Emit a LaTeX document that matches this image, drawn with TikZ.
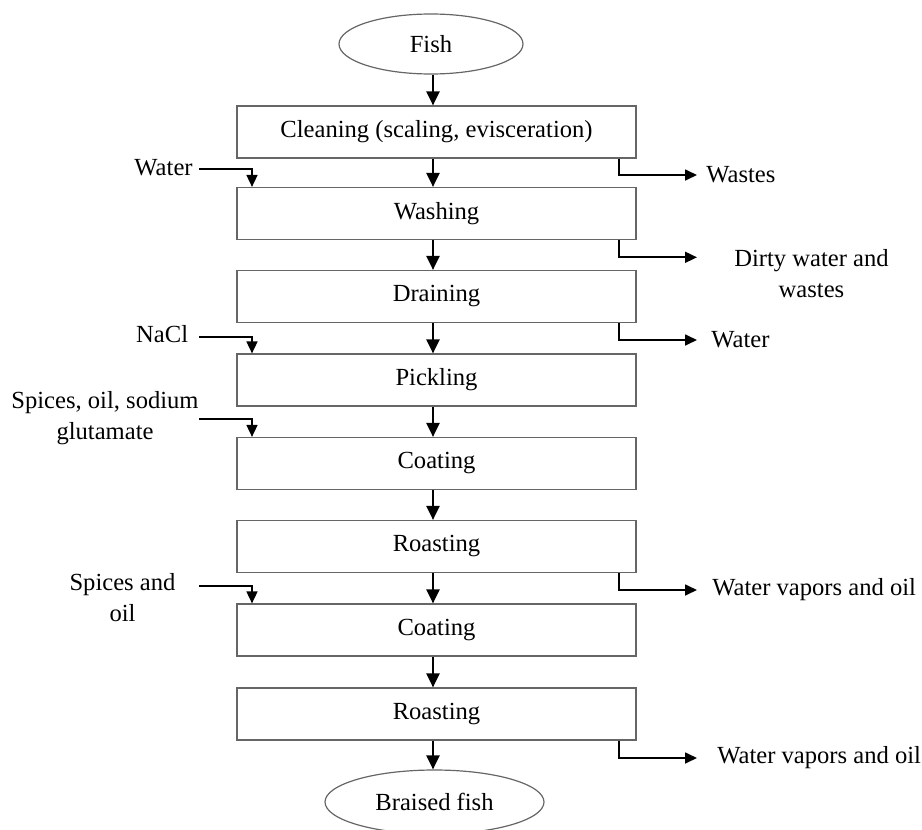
\documentclass[tikz,border=0pt]{standalone}
\usepackage{fontspec}
\setmainfont{Liberation Serif}
\usetikzlibrary{arrows.meta,shapes.geometric,calc}
\begin{document}
\begin{tikzpicture}[x=0.5pt,y=-0.5pt,
  every node/.style={font=\fontsize{12.3}{15.5}\selectfont},
  stepbox/.style={draw=black!60, line width=0.6pt, minimum width=199.5pt, minimum height=26pt, inner sep=0pt},
  term/.style={ellipse, draw=black!60, line width=0.6pt, inner sep=0pt},
  arr/.style={-{Triangle[length=7pt,width=6.5pt]}, line width=1.1pt, black},
  side/.style={-{Triangle[length=6pt,width=5.5pt]}, line width=0.85pt, black},
  lbl/.style={inner sep=0pt, align=center}]
\useasboundingbox (0,0) rectangle (922,830);

% axis coordinates
\coordinate (ax) at (433,0);
\coordinate (ix) at (252,0);
\coordinate (ox) at (619,0);

% terminals
\node[term, minimum width=92pt, minimum height=30pt] (fish) at (431,44) {Fish};
\node[term, minimum width=109.5pt, minimum height=32pt] (braised) at (434.5,802) {Braised fish};

% process steps
\node[stepbox] (b1) at (436.5,132) {Cleaning (scaling, evisceration)};
\node[stepbox] (b2) at (436.5,213.5) {Washing};
\node[stepbox] (b3) at (436.5,296.5) {Draining};
\node[stepbox] (b4) at (436.5,380) {Pickling};
\node[stepbox] (b5) at (436.5,463.5) {Coating};
\node[stepbox] (b6) at (436.5,546.5) {Roasting};
\node[stepbox] (b7) at (436.5,630) {Coating};
\node[stepbox] (b8) at (436.5,714) {Roasting};

% main flow
\draw[arr] (fish.south -| ax) -- (b1.north -| ax);
\draw[arr] (b1.south -| ax) -- (b2.north -| ax);
\draw[arr] (b2.south -| ax) -- (b3.north -| ax);
\draw[arr] (b3.south -| ax) -- (b4.north -| ax);
\draw[arr] (b4.south -| ax) -- (b5.north -| ax);
\draw[arr] (b5.south -| ax) -- (b6.north -| ax);
\draw[arr] (b6.south -| ax) -- (b7.north -| ax);
\draw[arr] (b7.south -| ax) -- (b8.north -| ax);
\draw[arr] (b8.south -| ax) -- (braised.north -| ax);

% inputs
\node[lbl, anchor=east] (inwater) at (193,168) {Water};
\node[lbl, anchor=east] (innacl) at (188.5,334) {NaCl};
\node[lbl] (inspice1) at (105,418) {Spices, oil, sodium\\glutamate};
\node[lbl] (inspice2) at (122.5,598) {Spices and\\oil};

\coordinate (i1) at (199,169.3);
\coordinate (i2) at (199,336.7);
\coordinate (i3) at (199,419.3);
\coordinate (i4) at (199,585.7);

\draw[side] (i1) -| (b2.north -| ix);
\draw[side] (i2) -| (b4.north -| ix);
\draw[side] (i3) -| (b5.north -| ix);
\draw[side] (i4) -| (b7.north -| ix);

% outputs
\node[lbl, anchor=west] (outwastes) at (706,175) {Wastes};
\node[lbl] (outdirty) at (811.5,274) {Dirty water and\\wastes};
\node[lbl, anchor=west] (outwater) at (711,340) {Water};
\node[lbl, anchor=west] (outvap1) at (712,590) {Water vapors and oil};
\node[lbl, anchor=west] (outvap2) at (717,758) {Water vapors and oil};

\coordinate (o1) at (697,175);
\coordinate (o2) at (697,257.3);
\coordinate (o3) at (697,340);
\coordinate (o4) at (697,590);
\coordinate (o5) at (697,758);

\draw[side] (b1.south -| ox) |- (o1);
\draw[side] (b2.south -| ox) |- (o2);
\draw[side] (b3.south -| ox) |- (o3);
\draw[side] (b6.south -| ox) |- (o4);
\draw[side] (b8.south -| ox) |- (o5);
\end{tikzpicture}
\end{document}
